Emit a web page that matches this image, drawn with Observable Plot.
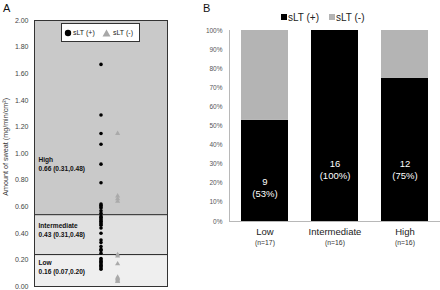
<!DOCTYPE html>
<html><head><meta charset="utf-8">
<script src="https://cdn.jsdelivr.net/npm/d3@7"></script>
<script src="https://cdn.jsdelivr.net/npm/@observablehq/plot@0.6"></script>
<style>
body{margin:0;background:#fff;font-family:"Liberation Sans",Arial,sans-serif;}
#wrap{position:relative;width:440px;height:290px;overflow:hidden;background:#fff;}
.pane{position:absolute;top:0;}
.plbl{position:absolute;font-size:11px;color:#111;line-height:1;}
#legA{position:absolute;left:61px;top:23px;width:77px;height:17px;border:1px solid #333;background:#fff;font-size:7px;color:#222;white-space:nowrap;}
#legA span,#legA svg,#legB span,#legB div{position:absolute;white-space:nowrap;}
#legB{position:absolute;left:0;top:0;width:440px;height:30px;font-size:10px;color:#222;white-space:nowrap;}
</style></head><body>
<div id="wrap">
  <div class="pane" id="a" style="left:0"></div>
  <div class="pane" id="b" style="left:200px"></div>
  <div class="plbl" style="left:3px;top:3px">A</div>
  <div class="plbl" style="left:203px;top:3px">B</div>
  <div id="legA">
    <svg width="8" height="8" style="left:2px;top:5px"><circle cx="4" cy="4" r="3.2" fill="#000"/></svg>
    <span style="left:11px;top:4.5px">sLT (+)</span>
    <svg width="9" height="8" style="left:40px;top:4.5px"><path d="M4.5 0.5 L8.5 7.5 L0.5 7.5 Z" fill="#a8a8a8"/></svg>
    <span style="left:51px;top:4.5px">sLT (-)</span>
  </div>
  <div id="legB">
    <div style="left:281px;top:14px;width:6px;height:6px;background:#000"></div>
    <span style="left:288px;top:11.5px">sLT (+)</span>
    <div style="left:329px;top:14px;width:6px;height:6px;background:#b4b4b4"></div>
    <span style="left:336px;top:11.5px">sLT (-)</span>
  </div>
</div>
<script>
// ---------- Panel A data ----------
const posValues = [1.67, 1.29, 1.15, 1.07, 0.92, 0.78, 0.62, 0.61, 0.60, 0.59, 0.57, 0.55,
  0.53, 0.52, 0.51, 0.50, 0.49, 0.48, 0.47, 0.46, 0.44, 0.40, 0.35, 0.33, 0.30, 0.28, 0.27, 0.25,
  0.21, 0.20, 0.19, 0.18, 0.17, 0.16, 0.15, 0.14, 0.13];
const negValues = [1.15, 0.68, 0.66, 0.64, 0.24, 0.23, 0.17, 0.07, 0.06, 0.05, 0.04, 0.04];
const bandNames = ["Low", "Intermediate", "High"];
const bandLower = [0, 0.24, 0.54];
const bandUpper = [0.24, 0.54, 2.0];
const bandSummary = ["0.16 (0.07,0.20)", "0.43 (0.31,0.48)", "0.66 (0.31,0.48)"];
const yTicksA = [0, 0.2, 0.4, 0.6, 0.8, 1.0, 1.2, 1.4, 1.6, 1.8, 2.0];
const yLabelA = "Amount of sweat (mg/min/cm²)";

// ---------- Panel B data ----------
const categories = ["Low", "Intermediate", "High"];
const groupN = [17, 16, 16];
const groupPos = [9, 16, 12];
const statuses = ["sLT (+)", "sLT (-)"];
const pctTicks = [0, 10, 20, 30, 40, 50, 60, 70, 80, 90, 100];

// ---------- Panel A ----------
const bands = bandNames.map((name, i) => ({name, lo: bandLower[i], hi: bandUpper[i], summary: bandSummary[i]}));
const bandShade = {Low: "#efefef", Intermediate: "#e1e1e1", High: "#c9c9c9"};
const bandLabelAt = {Low: 0.145, Intermediate: 0.42, High: 0.92};

const plotA = Plot.plot({
  width: 200, height: 290,
  marginLeft: 34, marginRight: 33, marginTop: 20, marginBottom: 4,
  style: {fontFamily: "Liberation Sans, Arial, sans-serif", fontSize: "7px", color: "#444", background: "transparent"},
  x: {domain: [0, 1], axis: null},
  y: {domain: [0, 2], ticks: yTicksA, tickFormat: d3.format(".2f"), tickSize: 0, tickPadding: 6, label: null},
  marks: [
    Plot.rect(bands, {y1: "lo", y2: "hi", fill: d => bandShade[d.name]}),
    Plot.ruleY(bandLower.slice(1), {stroke: "#222", strokeWidth: 1}),
    Plot.frame({stroke: "#333", strokeWidth: 1}),
    Plot.dot(posValues, {x: 0.5, y: d => d, r: 1.8, fill: "#000", stroke: "none"}),
    Plot.dot(negValues, {x: 0.625, y: d => d, r: 1.9, symbol: "triangle", fill: "#aaaaaa", stroke: "none"}),
    Plot.text(bands, {x: 0, y: d => bandLabelAt[d.name], text: "name", dx: 4, dy: -4.3, textAnchor: "start",
      fontWeight: "bold", fontSize: 6.6, fill: "#111"}),
    Plot.text(bands, {x: 0, y: d => bandLabelAt[d.name], text: "summary", dx: 4, dy: 4.3, textAnchor: "start",
      fontWeight: "bold", fontSize: 6.6, fill: "#111"}),
    Plot.text([yLabelA], {x: 0, y: 1.05, text: d => d, textAnchor: "middle", rotate: -90, dx: -29, fontSize: 7.2, fill: "#333"})
  ]
});
document.getElementById("a").append(plotA);

// ---------- Panel B ----------
const groups = categories.map((cat, i) => ({cat, n: groupN[i], pos: groupPos[i], pct: Math.round(100 * groupPos[i] / groupN[i])}));
const rows = groups.flatMap(g => [
  {cat: g.cat, status: statuses[0], value: 100 * g.pos / g.n},
  {cat: g.cat, status: statuses[1], value: 100 * (g.n - g.pos) / g.n}
]);
const barLabelAt = {Low: 17.8, Intermediate: 27.2, High: 27.2};

const plotB = Plot.plot({
  width: 240, height: 290,
  marginLeft: 29, marginRight: 0, marginTop: 30, marginBottom: 69,
  style: {fontFamily: "Liberation Sans, Arial, sans-serif", fontSize: "6.5px", color: "#555", background: "transparent"},
  x: {domain: categories, paddingInner: 0.333, paddingOuter: 0.166, axis: null},
  y: {domain: [0, 100], ticks: pctTicks, tickFormat: d => d + "%", tickSize: 0, tickPadding: 7, label: null},
  color: {domain: statuses, range: ["#000000", "#b4b4b4"]},
  marks: [
    Plot.barY(rows, {x: "cat", y: "value", fill: "status", order: statuses}),
    Plot.frame({anchor: "left", stroke: "#b8b8b8"}),
    Plot.ruleY([0], {stroke: "#b8b8b8"}),
    Plot.text(groups, {x: "cat", y: d => barLabelAt[d.cat], text: d => `${d.pos}\n(${d.pct}%)`,
      fill: "#fff", fontSize: 9.5, lineHeight: 1.23}),
    Plot.text(groups, {x: "cat", text: "cat", frameAnchor: "bottom", dy: 13, fontSize: 9.5, fill: "#222"}),
    Plot.text(groups, {x: "cat", text: d => `(n=${d.n})`, frameAnchor: "bottom", dy: 23.5, fontSize: 6.8, fill: "#333"})
  ]
});
document.getElementById("b").append(plotB);
</script>
</body></html>
